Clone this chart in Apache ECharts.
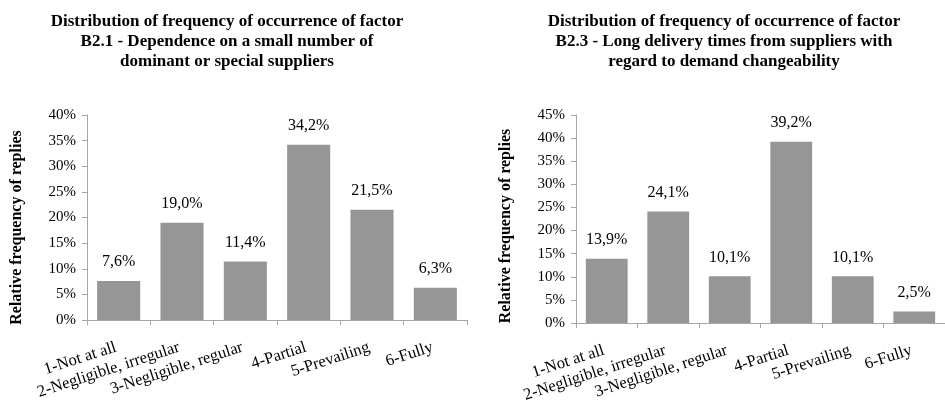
<!DOCTYPE html>
<html>
<head>
<meta charset="utf-8">
<script src="https://cdn.jsdelivr.net/npm/echarts@6/dist/echarts.min.js"></script>
<style>
  html, body { margin: 0; padding: 0; background: #ffffff; }
  #chart { width: 945px; height: 418px; }
</style>
</head>
<body>
<div id="chart"></div>
<script>
// Answer categories shared by both factors
const categories = [
  '1-Not at all',
  '2-Negligible, irregular',
  '3-Negligible, regular',
  '4-Partial',
  '5-Prevailing',
  '6-Fully'
];

// Relative frequency of replies, in percent
const valuesB21 = [7.6, 19.0, 11.4, 34.2, 21.5, 6.3];
const valuesB23 = [13.9, 24.1, 10.1, 39.2, 10.1, 2.5];

// Panel titles
const titleB21 = 'Distribution of frequency of occurrence of factor\nB2.1 - Dependence on a small number of\ndominant or special suppliers';
const titleB23 = 'Distribution of frequency of occurrence of factor\nB2.3 - Long delivery times from suppliers with\nregard to demand changeability';

const yName = 'Relative frequency of replies';

const FONT = '"Liberation Serif", "Times New Roman", serif';
const AXIS_COLOR = '#a6a6a6';
const BAR_COLOR = '#969696';

const pct = v => v.toFixed(1).replace('.', ',') + '%';

function xAxis(gridIndex) {
  return {
    type: 'category',
    gridIndex,
    data: categories,
    boundaryGap: true,
    axisLine: { lineStyle: { color: AXIS_COLOR, width: 1 } },
    axisTick: { show: true, length: 5, lineStyle: { color: AXIS_COLOR } },
    axisLabel: {
      interval: 0,
      rotate: 18,
      margin: 26,
      padding: [0, 3, 0, 0],
      fontFamily: FONT,
      fontSize: 16.5,
      color: '#000000'
    }
  };
}

function yAxis(gridIndex, max, shift) {
  return {
    type: 'value',
    gridIndex,
    min: 0,
    max,
    interval: 5,
    name: yName,
    nameLocation: 'middle',
    nameRotate: 90,
    nameGap: 62,
    nameTextStyle: {
      fontFamily: FONT, fontSize: 16, fontWeight: 'bold', color: '#000000',
      padding: [0, shift, 0, 0]
    },
    axisLine: { show: true, lineStyle: { color: AXIS_COLOR, width: 1 } },
    axisTick: { show: true, length: 5, lineStyle: { color: AXIS_COLOR } },
    splitLine: { show: false },
    axisLabel: {
      margin: 11,
      fontFamily: FONT,
      fontSize: 15,
      color: '#000000',
      formatter: v => v + '%'
    }
  };
}

function barSeries(idx, data) {
  return {
    type: 'bar',
    xAxisIndex: idx,
    yAxisIndex: idx,
    data,
    barCategoryGap: '32%',
    itemStyle: { color: BAR_COLOR },
    label: {
      show: true,
      position: 'top',
      distance: 11,
      fontFamily: FONT,
      fontSize: 16,
      color: '#000000',
      formatter: p => pct(p.value)
    },
    silent: true
  };
}

const chart = echarts.init(document.getElementById('chart'), null, { renderer: 'canvas' });

const titleStyle = { fontFamily: FONT, fontSize: 17, fontWeight: 'bold', color: '#000000', lineHeight: 20 };

chart.setOption({
  animation: false,
  backgroundColor: '#ffffff',
  title: [
    { text: titleB21, left: 222, top: 7, textAlign: 'center', textStyle: titleStyle },
    { text: titleB23, left: 719, top: 7, textAlign: 'center', textStyle: titleStyle }
  ],
  grid: [
    { left: 87, top: 115, width: 380, height: 205 },
    { left: 576, top: 115, width: 380, height: 208 }
  ],
  xAxis: [xAxis(0), xAxis(1)],
  yAxis: [yAxis(0, 40, 20), yAxis(1, 45, 14)],
  series: [barSeries(0, valuesB21), barSeries(1, valuesB23)]
});
</script>
</body>
</html>
